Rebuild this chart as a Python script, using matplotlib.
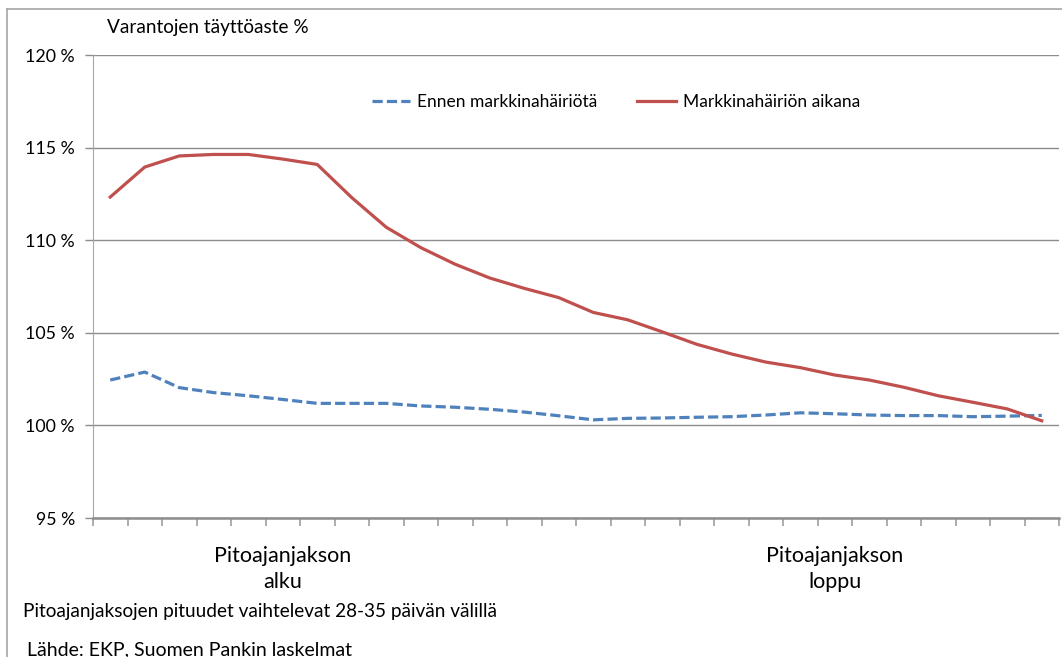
import matplotlib.pyplot as plt
import numpy as np
from matplotlib.lines import Line2D
from matplotlib.transforms import blended_transform_factory

plt.rcParams['font.family'] = ['Lato', 'DejaVu Sans']

# values, 28 points across the maintenance period
ennen = [102.45, 102.88, 102.04, 101.77, 101.6, 101.4, 101.19, 101.19, 101.19, 101.05,
         100.98, 100.87, 100.72, 100.52, 100.3, 100.38, 100.4, 100.44, 100.47, 100.56,
         100.68, 100.63, 100.56, 100.53, 100.53, 100.47, 100.5, 100.54]
aikana = [112.33, 113.95, 114.55, 114.63, 114.63, 114.38, 114.09, 112.3, 110.7, 109.6,
          108.7, 107.96, 107.4, 106.9, 106.1, 105.7, 105.05, 104.38, 103.86, 103.42,
          103.12, 102.72, 102.45, 102.06, 101.6, 101.25, 100.89, 100.25]
yticks = [95, 100, 105, 110, 115, 120]
cat_labels = {5: 'Pitoajanjakson\nalku', 21: 'Pitoajanjakson\nloppu'}

blue = '#4f81bd'
red = '#c0504d'
grey = '#8c8c8c'

fig = plt.figure(figsize=(10.62, 6.57), dpi=100)
ax = fig.add_axes([93 / 1062, 1 - 518 / 657, (1059 - 93) / 1062, (518 - 55) / 657])

x = np.arange(len(ennen))
ax.plot(x, ennen, color=blue, lw=2.3, dashes=(3.2, 1.3), solid_capstyle='butt')
ax.plot(x, aikana, color=red, lw=2.3)

ax.set_xlim(-0.5, len(ennen) - 0.5)
ax.set_ylim(95, 120)
ax.set_yticks(yticks)
ax.set_yticklabels([f'{v} %' for v in yticks], fontsize=12.8)
ax.yaxis.grid(True, color=grey, lw=1)
ax.set_axisbelow(True)
ax.tick_params(axis='y', length=6, color=grey, width=1, pad=7)

ax.set_xticks(np.arange(-0.5, len(ennen)), minor=True)
ax.set_xticks([])
ax.tick_params(axis='x', which='minor', length=6, color='#a6a6a6', width=1.3)

for s in ['top', 'right']:
    ax.spines[s].set_visible(False)
ax.spines['left'].set_color('#a6a6a6')
ax.spines['bottom'].set_color(grey)
ax.spines['bottom'].set_linewidth(1.8)

tr = blended_transform_factory(ax.transData, fig.transFigure)
for i, lab in cat_labels.items():
    ax.text(i, 1 - 569 / 657, lab, transform=tr, ha='center', va='center',
            fontsize=15.5, linespacing=1.32)

fig.text(107 / 1062, 1 - 28 / 657, 'Varantojen täyttöaste %', fontsize=13.7, va='center')
fig.text(23 / 1062, 1 - 612 / 657, 'Pitoajanjaksojen pituudet vaihtelevat 28-35 päivän välillä',
         fontsize=13.7, va='center')
fig.text(27 / 1062, 1 - 650 / 657, 'Lähde: EKP, Suomen Pankin laskelmat', fontsize=14, va='center')

handles = [Line2D([], [], color=blue, lw=2.3, dashes=(3.2, 1.3)),
           Line2D([], [], color=red, lw=2.3)]
fig.legend(handles, ['Ennen markkinahäiriötä', 'Markkinahäiriön aikana'],
           loc='center', bbox_to_anchor=(616 / 1062, 1 - 102 / 657), ncol=2,
           frameon=False, fontsize=12.5, handlelength=2.2, handletextpad=0.4,
           columnspacing=2.3)

# frame of the original chart, only top and left edges are visible
fig.add_artist(Line2D([7 / 1062, 1.0], [1 - 8.5 / 657] * 2, color='#a6a6a6', lw=1.2))
fig.add_artist(Line2D([7 / 1062] * 2, [0, 1 - 8.5 / 657], color='#a6a6a6', lw=1.2))

fig.savefig('out.png', dpi=100)
